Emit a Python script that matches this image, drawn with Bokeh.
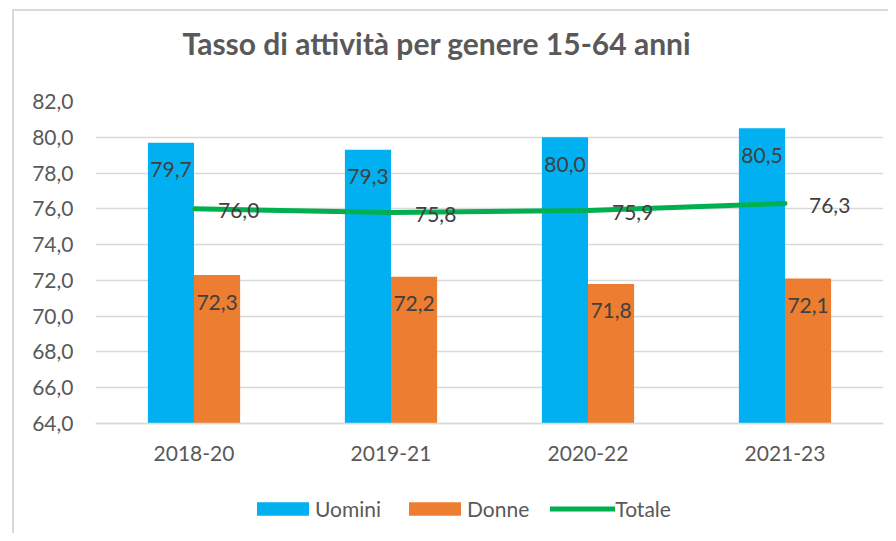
from bokeh.plotting import figure
from bokeh.models import (FactorRange, Range1d, FixedTicker, CustomJSTickFormatter,
                          ColumnDataSource, Legend, LegendItem, Title, InlineStyleSheet)
from bokeh.transform import dodge
from bokeh.core.properties import value
from bokeh.embed import file_html
from bokeh.resources import INLINE

# ---- data ----
categories = ["2018-20", "2019-21", "2020-22", "2021-23"]
uomini = [79.7, 79.3, 80.0, 80.5]
donne = [72.3, 72.2, 71.8, 72.1]
totale = [76.0, 75.8, 75.9, 76.3]
y_ticks = [64, 66, 68, 70, 72, 74, 76, 78, 80, 82]
series_names = ["Uomini", "Donne", "Totale"]
title_text = "Tasso di attività per genere 15-64 anni"

# ---- styles / layout ----
FONT = "Lato"
C_U = "#00b0f0"
C_D = "#ed7d31"
C_T = "#00b050"
TXT = "#595959"
LBL = "#404040"
GRID = "#d9d9d9"

W, H = 888, 533
TOP, AXIS_Y, BOTTOM_BORDER = 101, 423, 8       # pixel rows: top tick, baseline tick
frame_h = H - TOP - BOTTOM_BORDER
px_per_unit = (AXIS_Y - TOP) / (y_ticks[-1] - y_ticks[0])
y_start = y_ticks[-1] - frame_h / px_per_unit  # extra room under the baseline for labels/legend


def fmt(v):
    return f"{v:.1f}".replace(".", ",")


src = ColumnDataSource(dict(
    cat=categories, u=uomini, d=donne, t=totale,
    ul=[fmt(v) for v in uomini], dl=[fmt(v) for v in donne], tl=[fmt(v) for v in totale],
))

p = figure(width=W, height=H, x_range=FactorRange(*categories, range_padding=0),
           y_range=Range1d(y_start, y_ticks[-1]), output_backend="svg",
           toolbar_location=None, min_border_left=95, min_border_right=5,
           min_border_top=TOP, min_border_bottom=BOTTOM_BORDER)
p.outline_line_color = None
p.background_fill_color = "white"
p.border_fill_color = "white"

# spacer (nearest the frame), then the visible title above it
p.add_layout(Title(text=" ", text_font_size="1px", standoff=38), "above")
p.add_layout(Title(text=title_text, align="left", offset=87, text_font=FONT,
                   text_font_size="30px", text_font_style="bold", text_color=TXT,
                   standoff=0), "above")

bw = 0.234
r_u = p.vbar(x=dodge("cat", -bw / 2, range=p.x_range), top="u", bottom=y_ticks[0], width=bw,
             source=src, fill_color=C_U, line_color=None)
r_d = p.vbar(x=dodge("cat", bw / 2, range=p.x_range), top="d", bottom=y_ticks[0], width=bw,
             source=src, fill_color=C_D, line_color=None)
r_t = p.line(x="cat", y="t", source=src, line_color=C_T, line_width=5, line_cap="round")

p.text(x=dodge("cat", -bw / 2, range=p.x_range), y="u", text="ul", source=src,
       text_align="center", text_baseline="middle", y_offset=27,
       text_font=value(FONT), text_font_size="21px", text_color=LBL)
p.text(x=dodge("cat", bw / 2, range=p.x_range), y="d", text="dl", source=src,
       text_align="center", text_baseline="middle", y_offset=27,
       text_font=value(FONT), text_font_size="21px", text_color=LBL)
p.text(x="cat", y="t", text="tl", source=src, text_align="left", text_baseline="middle",
       x_offset=24, y_offset=2, text_font=value(FONT), text_font_size="21px", text_color=LBL)

# axes
p.yaxis.ticker = FixedTicker(ticks=y_ticks)
p.yaxis.formatter = CustomJSTickFormatter(code="return tick.toFixed(1).replace('.', ',');")
for ax in (p.xaxis[0], p.yaxis[0]):
    ax.major_tick_in = 0
    ax.major_tick_out = 0
    ax.minor_tick_in = 0
    ax.minor_tick_out = 0
    ax.major_tick_line_color = None
    ax.minor_tick_line_color = None
    ax.major_label_text_font = FONT
    ax.major_label_text_font_size = "21px"
    ax.major_label_text_color = TXT
p.yaxis.axis_line_color = None
p.yaxis.major_label_standoff = 22
p.xaxis.fixed_location = y_ticks[0]
p.xaxis.axis_line_color = GRID
p.xaxis.axis_line_width = 1.5
p.xaxis.major_label_standoff = 22

p.xgrid.visible = False
p.ygrid.grid_line_color = GRID
p.ygrid.grid_line_width = 1.5

legend = Legend(items=[LegendItem(label=series_names[0], renderers=[r_u]),
                       LegendItem(label=series_names[1], renderers=[r_d]),
                       LegendItem(label=series_names[2], renderers=[r_t])],
                orientation="horizontal", location=(155, 4),
                glyph_width=65, glyph_height=17, label_standoff=0, spacing=21,
                padding=0, margin=0, border_line_color=None, background_fill_alpha=0,
                label_text_font=FONT, label_text_font_size="21px", label_text_color=TXT)
p.add_layout(legend)

p.stylesheets = [InlineStyleSheet(css=(
    ":host::after { content: ''; position: absolute; left: 12px; top: 9px; right: 0; bottom: 0;"
    " border-left: 2px solid #d9d9d9; border-top: 2px solid #d9d9d9; pointer-events: none; }"
))]

open("out.html", "w").write(file_html(p, INLINE))
